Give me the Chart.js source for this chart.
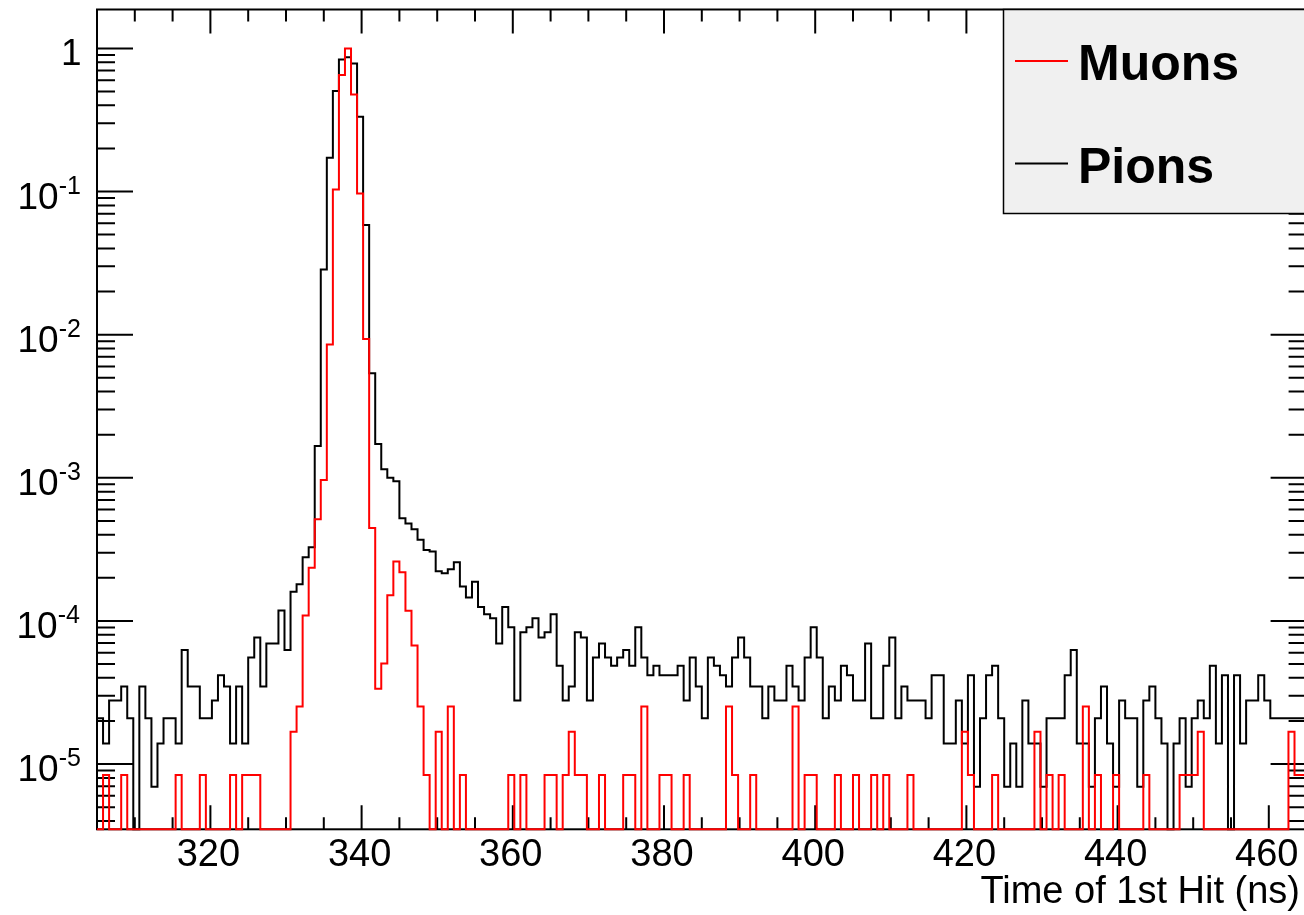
<!DOCTYPE html>
<html>
<head>
<meta charset="utf-8">
<title>Time of 1st Hit</title>
<script src="https://cdn.jsdelivr.net/npm/chart.js@4.4.1/dist/chart.umd.min.js"></script>
<style>
  html, body { margin: 0; padding: 0; background: #fff; overflow: hidden; }
  #wrap { position: relative; width: 1312px; height: 915px; }
</style>
</head>
<body>
<div id="wrap"><canvas id="chart" width="1312" height="915"></canvas></div>
<script>
// ── HISTOGRAM BINNING ──
const binLow = 305;       // ns, low edge of first bin
const binWidth = 0.8;     // ns
const xMin = 305, xMax = 465;
const yMin = 3.5e-6, yMax = 1.87;

// weight of one entry in each normalised histogram
const muonUnit = 8.4e-6;
const pionUnit = 6.95e-6;

// entries per bin, 200 bins
const muonCounts = [
  0, 1, 0, 0, 1, 0, 0, 0, 0, 0,
  0, 0, 0, 1, 0, 0, 0, 1, 0, 0,
  0, 0, 1, 0, 1, 1, 1, 0, 0, 0,
  0, 0, 2, 3, 13, 28, 61, 115, 1018, 12320,
  77500, 119000, 56800, 11550, 1110, 53, 4, 6, 18, 31,
  26, 14, 8, 3, 1, 0, 2, 0, 3, 0,
  1, 0, 0, 0, 0, 0, 0, 0, 1, 0,
  1, 0, 0, 0, 1, 1, 0, 1, 2, 1,
  1, 0, 0, 1, 0, 0, 0, 1, 1, 0,
  3, 0, 0, 1, 1, 0, 0, 1, 0, 0,
  0, 0, 0, 0, 3, 1, 0, 0, 1, 0,
  0, 0, 0, 0, 0, 3, 0, 1, 1, 0,
  0, 0, 1, 0, 0, 1, 0, 0, 1, 0,
  1, 0, 0, 0, 1, 0, 0, 0, 0, 0,
  0, 0, 0, 2, 1, 0, 0, 0, 1, 0,
  0, 0, 0, 0, 0, 2, 0, 1, 0, 1,
  0, 0, 0, 3, 0, 1, 0, 0, 1, 0,
  0, 0, 0, 1, 0, 0, 0, 0, 0, 1,
  1, 1, 2, 0, 0, 0, 0, 0, 0, 0,
  0, 0, 0, 0, 0, 0, 0, 2, 1, 1
];

const pionCounts = [
  3, 2, 4, 4, 5, 3, 0, 5, 3, 1,
  2, 3, 3, 2, 9, 5, 5, 3, 3, 4,
  6, 5, 2, 5, 2, 8, 11, 5, 10, 10,
  17, 9, 23, 26, 40, 47, 240, 4110, 24800, 72400,
  120600, 125000, 113000, 47900, 8390, 772, 248, 165, 144, 136,
  75, 69, 63, 53, 45, 44, 32, 31, 33, 37,
  25, 21, 27, 18, 16, 15, 10, 18, 13, 4,
  12, 13, 15, 11, 12, 16, 7, 4, 5, 12,
  11, 4, 8, 10, 8, 7, 8, 9, 7, 13,
  8, 6, 7, 6, 6, 6, 7, 4, 8, 5,
  3, 8, 7, 6, 5, 8, 11, 8, 5, 5,
  3, 5, 4, 4, 7, 5, 4, 8, 13, 8,
  3, 5, 4, 7, 6, 4, 4, 10, 3, 3,
  7, 11, 3, 5, 4, 4, 4, 3, 6, 6,
  2, 2, 4, 2, 6, 1, 3, 6, 7, 3,
  1, 2, 1, 4, 2, 2, 1, 3, 3, 3,
  6, 9, 2, 2, 1, 3, 5, 2, 1, 4,
  3, 3, 1, 4, 5, 3, 2, 0, 2, 3,
  1, 3, 4, 3, 7, 2, 6, 0, 6, 2,
  4, 4, 6, 4, 3, 3, 3, 3, 3, 3
];

const seriesNames = ['Muons', 'Pions'];
const seriesColors = ['#ff0000', '#000000'];
const xTickLabels = [320, 340, 360, 380, 400, 420, 440, 460];
const yDecadeExponents = [0, -1, -2, -3, -4, -5];
const xTitle = 'Time of 1st Hit (ns)';

const FONT = '"Liberation Sans", Arial, Helvetica, sans-serif';

// one point per low bin edge plus the closing upper edge; empty bins sit on the axis floor
function histPoints(counts, unit) {
  const pts = counts.map((c, i) => ({ x: binLow + i * binWidth, y: c > 0 ? c * unit : yMin }));
  pts.push({ x: binLow + counts.length * binWidth, y: pts[pts.length - 1].y });
  return pts;
}

// ── FRAME, TICKS, LABELS, LEGEND ──
const rootFrame = {
  id: 'rootFrame',
  beforeDatasetsDraw(chart) {
    const { ctx, chartArea: a, scales: { x, y } } = chart;
    ctx.save();
    ctx.strokeStyle = '#000';
    ctx.lineWidth = 2;
    ctx.strokeRect(a.left, a.top, a.right - a.left, a.bottom - a.top);

    ctx.beginPath();
    for (let t = 310; t < xMax; t += 5) {
      const px = x.getPixelForValue(t);
      const len = t % 20 === 0 ? 24 : 12;
      ctx.moveTo(px, a.bottom); ctx.lineTo(px, a.bottom - len);
      ctx.moveTo(px, a.top); ctx.lineTo(px, a.top + len);
    }
    for (let k = -6; k <= 0; k++) {
      for (let m = 1; m <= 9; m++) {
        const v = m * Math.pow(10, k);
        if (v < yMin || v > yMax) continue;
        const py = y.getPixelForValue(v);
        const len = m === 1 ? 36 : 18;
        ctx.moveTo(a.left, py); ctx.lineTo(a.left + len, py);
        ctx.moveTo(a.right, py); ctx.lineTo(a.right - len, py);
      }
    }
    ctx.stroke();
    ctx.restore();
  },
  afterDraw(chart) {
    const { ctx, chartArea: a, scales: { x, y } } = chart;
    ctx.save();
    ctx.fillStyle = '#000';

    // x tick labels
    ctx.font = `38px ${FONT}`;
    ctx.textAlign = 'center';
    ctx.textBaseline = 'alphabetic';
    xTickLabels.forEach(v => ctx.fillText(String(v), x.getPixelForValue(v) - 2, a.bottom + 37));

    // y tick labels, 10 with a raised exponent
    const inkRight = 80;
    ctx.textAlign = 'left';
    yDecadeExponents.forEach(k => {
      const py = y.getPixelForValue(Math.pow(10, k));
      const base = py + 17;
      if (k === 0) {
        ctx.font = `37px ${FONT}`;
        const m = ctx.measureText('1');
        ctx.fillText('1', inkRight - m.actualBoundingBoxRight, base);
        return;
      }
      const sup = String(k);
      ctx.font = `25px ${FONT}`;
      const ms = ctx.measureText(sup);
      const sx = inkRight - ms.actualBoundingBoxRight;
      ctx.fillText(sup, sx, base - 15);
      ctx.font = `37px ${FONT}`;
      const mm = ctx.measureText('10');
      ctx.fillText('10', sx - mm.width, base);
    });

    // axis title
    ctx.font = `38px ${FONT}`;
    ctx.textAlign = 'right';
    ctx.fillText(xTitle, 1300, 903);

    // legend box
    const lx = 1003.5, ly = a.top, lw = 400, lh = 213.5 - a.top;
    ctx.fillStyle = '#f0f0f0';
    ctx.fillRect(lx, ly, lw, lh);
    ctx.strokeStyle = '#000';
    ctx.lineWidth = 1.5;
    ctx.strokeRect(lx, ly, lw, lh);
    const rows = [61, 163.5];
    ctx.font = `bold 50px ${FONT}`;
    ctx.textAlign = 'left';
    seriesNames.forEach((name, i) => {
      ctx.strokeStyle = seriesColors[i];
      ctx.lineWidth = 2;
      ctx.beginPath();
      ctx.moveTo(1015, rows[i]);
      ctx.lineTo(1068, rows[i]);
      ctx.stroke();
      ctx.fillStyle = '#000';
      ctx.fillText(name, 1078, rows[i] + 19);
    });
    ctx.restore();
  }
};

const chart = new Chart(document.getElementById('chart').getContext('2d'), {
  type: 'line',
  data: {
    datasets: [
      {
        label: seriesNames[0],
        data: histPoints(muonCounts, muonUnit),
        borderColor: seriesColors[0],
        borderWidth: 2,
        stepped: 'before',
        pointRadius: 0,
        fill: false,
        clip: false
      },
      {
        label: seriesNames[1],
        data: histPoints(pionCounts, pionUnit),
        borderColor: seriesColors[1],
        borderWidth: 2,
        stepped: 'before',
        pointRadius: 0,
        fill: false,
        clip: false
      }
    ]
  },
  options: {
    responsive: false,
    animation: false,
    layout: { padding: { left: 97, top: 9.5, right: 5.4, bottom: 85.7 } },
    scales: {
      x: { type: 'linear', min: xMin, max: xMax, display: false },
      y: { type: 'logarithmic', min: yMin, max: yMax, display: false }
    },
    plugins: {
      legend: { display: false },
      tooltip: { enabled: false }
    }
  },
  plugins: [rootFrame]
});
</script>
</body>
</html>
